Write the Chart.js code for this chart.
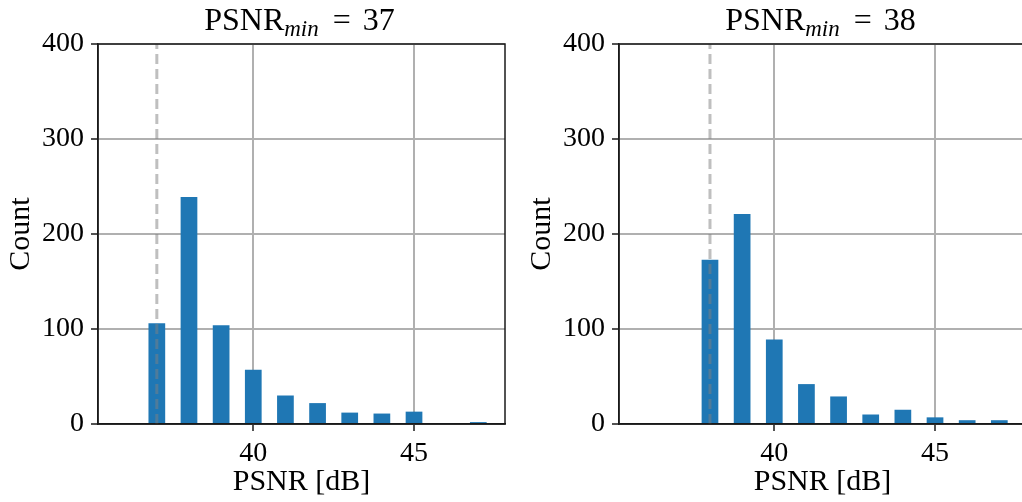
<!DOCTYPE html>
<html>
<head>
<meta charset="utf-8">
<script src="https://cdn.jsdelivr.net/npm/chart.js@4.4.1/dist/chart.umd.min.js"></script>
<style>
    html, body { margin: 0; padding: 0; background: #fff; }
    body { width: 1022px; height: 502px; overflow: hidden; position: relative; }
    canvas { position: absolute; top: 0; }
    .title {
        position: absolute; top: 3px; width: 407px; text-align: center;
        font-family: 'Liberation Serif', 'DejaVu Serif', serif; font-size: 32px; line-height: 32px; color: #000;
        white-space: nowrap; word-spacing: 4px;
    }
    .title .sub { font-style: italic; font-size: 23px; position: relative; top: 6px; margin-right: 2px; }
</style>
</head>
<body>
<canvas id="chart-left" width="511" height="502" style="left:0px"></canvas>
<canvas id="chart-right" width="511" height="502" style="left:521px"></canvas>
<div class="title" style="left:96px">PSNR<span class="sub">min</span> = 37</div>
<div class="title" style="left:617px">PSNR<span class="sub">min</span> = 38</div>

<script>
// 히스토그램 데이터 (PSNR 값별 개수)
const psnrLeft = [37, 38, 39, 40, 41, 42, 43, 44, 45, 46, 47];
const countLeft = [106, 239, 104, 57, 30, 22, 12, 11, 13, 1, 2];
const psnrRight = [38, 39, 40, 41, 42, 43, 44, 45, 46, 47];
const countRight = [173, 221, 89, 42, 29, 10, 15, 7, 4, 4];
const minLeft = 37;
const minRight = 38;
const xTicks = [40, 45];
const yTicks = [0, 100, 200, 300, 400];

const FONT = "'Liberation Serif', 'DejaVu Serif', serif";

// 위/오른쪽 테두리
const framePlugin = {
    id: 'frame',
    afterDraw(chart) {
        const a = chart.chartArea;
        const ctx = chart.ctx;
        ctx.save();
        ctx.strokeStyle = '#1a1a1a';
        ctx.lineWidth = 1.5;
        ctx.strokeRect(a.left, a.top, a.right - a.left, a.bottom - a.top);
        ctx.restore();
    }
};

function histChart(id, xs, counts, minValue) {
    const ctx = document.getElementById(id).getContext('2d');
    const points = xs.map((x, i) => ({ x: x, y: counts[i] }));

    new Chart(ctx, {
        type: 'bar',
        data: {
            datasets: [{
                type: 'line',
                data: [{ x: minValue, y: yTicks[0] }, { x: minValue, y: yTicks[yTicks.length - 1] }],
                borderColor: 'rgba(128, 128, 128, 0.5)',
                borderWidth: 3,
                borderDash: [10, 5],
                pointRadius: 0,
                order: 0
            }, {
                data: points,
                backgroundColor: '#1f77b4',
                barPercentage: 0.52,
                categoryPercentage: 1,
                order: 1
            }]
        },
        options: {
            responsive: false,
            animation: false,
            layout: { padding: { left: 0, right: 6, top: 44, bottom: 0 } },
            plugins: {
                legend: { display: false },
                tooltip: { enabled: false }
            },
            scales: {
                x: {
                    type: 'linear',
                    min: 35.17,
                    max: 47.83,
                    offset: false,
                    afterBuildTicks: (scale) => {
                        scale.ticks = xTicks.map(v => ({ value: v }));
                    },
                    afterFit: (scale) => { scale.height = 78; },
                    ticks: {
                        color: '#000',
                        padding: 6,
                        font: { family: FONT, size: 28 }
                    },
                    grid: {
                        offset: false,
                        color: '#b0b0b0',
                        lineWidth: 2,
                        tickColor: '#1a1a1a',
                        tickLength: 7,
                        tickWidth: 1.5
                    },
                    border: { display: true, color: '#1a1a1a', width: 1.5 },
                    title: {
                        display: true,
                        text: 'PSNR [dB]',
                        color: '#000',
                        padding: { top: 0, bottom: 2 },
                        font: { family: FONT, size: 30 }
                    }
                },
                y: {
                    min: 0,
                    max: 400,
                    afterBuildTicks: (scale) => {
                        scale.ticks = yTicks.map(v => ({ value: v }));
                    },
                    afterFit: (scale) => { scale.width = 98; },
                    ticks: {
                        color: '#000',
                        padding: 7,
                        font: { family: FONT, size: 28 }
                    },
                    grid: {
                        color: '#b0b0b0',
                        lineWidth: 2,
                        tickColor: '#1a1a1a',
                        tickLength: 7,
                        tickWidth: 1.5
                    },
                    border: { display: true, color: '#1a1a1a', width: 1.5 },
                    title: {
                        display: true,
                        text: 'Count',
                        color: '#000',
                        padding: { top: 3, bottom: 0 },
                        font: { family: FONT, size: 30 }
                    }
                }
            }
        },
        plugins: [framePlugin]
    });
}

histChart('chart-left', psnrLeft, countLeft, minLeft);
histChart('chart-right', psnrRight, countRight, minRight);
</script>
</body>
</html>
